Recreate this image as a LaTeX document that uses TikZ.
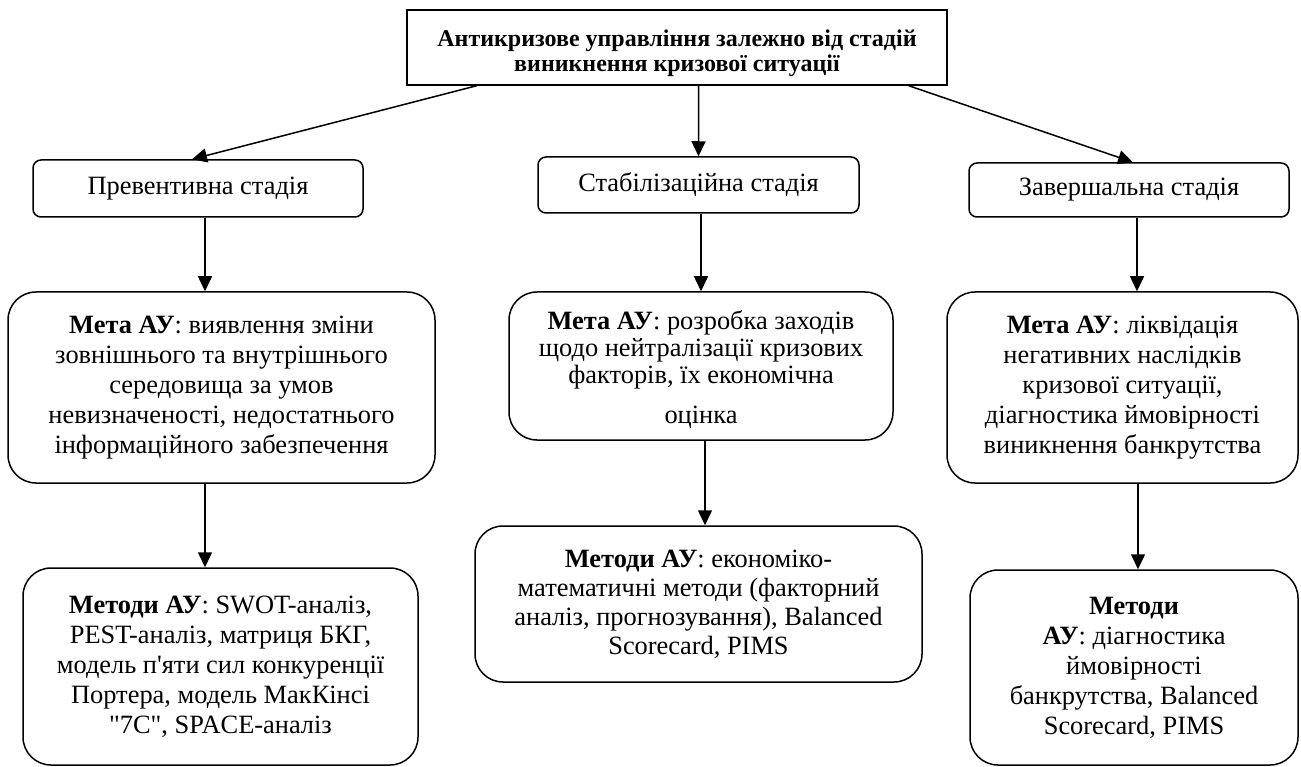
\documentclass[tikz,border=0pt]{standalone}
\usepackage{fontspec}
\setmainfont{Liberation Serif}[Ligatures=TeXOff]
\usetikzlibrary{arrows.meta,calc}
\begin{document}
\begin{tikzpicture}[x=1pt,y=-1pt,
  box/.style={draw, line width=1.5pt, inner sep=0pt, align=center,
    font=\fontsize{26.4}{30}\selectfont},
  stagebox/.style={box, rounded corners=8pt},
  bigbox/.style={box, rounded corners=28pt},
  txt/.style={inner sep=0pt, align=center, font=\fontsize{26.4}{27}\selectfont},
  titletxt/.style={inner sep=0pt, align=center, font=\fontsize{24}{24.5}\selectfont\bfseries},
  arr/.style={line width=1.5pt, -{Triangle[length=15pt,width=14pt]}}]
\useasboundingbox (0,0) rectangle (1301,767);

\node[box, minimum width=540pt, minimum height=75pt] (t) at (677,47.5) {};
\node[titletxt] (tt) at (677,53.5)
  {Антикризове управління залежно від стадій\\ виникнення кризової ситуації};

\node[stagebox, minimum width=330pt, minimum height=57pt] (s1) at (198,188.5) {Превентивна стадія};
\node[stagebox, minimum width=321pt, minimum height=56pt] (s2) at (698.5,185) {Стабілізаційна стадія};
\node[stagebox, minimum width=320pt, minimum height=54pt] (s3) at (1129,190) {Завершальна стадія};

\node[bigbox, minimum width=427pt, minimum height=191pt] (m1) at (221.5,387.5)
  {\textbf{Мета АУ}: виявлення зміни\\ зовнішнього та внутрішнього\\ середовища за умов\\ невизначеності, недостатнього\\ інформаційного забезпечення};
\node[bigbox, minimum width=384pt, minimum height=148pt] (m2) at (701,366) {};
\begin{scope}
  \clip (509,292) rectangle (893,427);
  \node[txt] (m2t) at (701,369.5)
    {\textbf{Мета АУ}: розробка заходів\\ щодо нейтралізації кризових\\ факторів, їх економічна\\[13pt] оцінка};
\end{scope}
\node[bigbox, minimum width=351pt, minimum height=191pt] (m3) at (1122.5,387.5)
  {\textbf{Мета АУ}: ліквідація\\ негативних наслідків\\ кризової ситуації,\\ діагностика ймовірності\\ виникнення банкрутства};

\node[bigbox, minimum width=395pt, minimum height=197pt] (k1) at (220.5,666.5)
  {\textbf{Методи АУ}: SWOT-аналіз,\\ PEST-аналіз, матриця БКГ,\\ модель п'яти сил конкуренції\\ Портера, модель МакКінсі\\ "7С", SPACE-аналіз};
\node[bigbox, minimum width=447pt, minimum height=156pt, font=\fontsize{26.4}{29}\selectfont] (k2) at (698.5,604)
  {\textbf{Методи АУ}: економіко-\\ математичні методи (факторний\\ аналіз, прогнозування), Balanced\\ Scorecard, PIMS};
\node[bigbox, minimum width=328pt, minimum height=195pt] (k3) at (1134,667.5)
  {\textbf{Методи}\\ \textbf{АУ}: діагностика\\ ймовірності\\ банкрутства, Balanced\\ Scorecard, PIMS};

% connectors from title
\draw[arr] ($(t.south west)!0.13!(t.south east)$) -- ([xshift=-6pt]s1.north);
\draw[arr] ($(t.south west)!0.54!(t.south east)$) -- (s2.north);
\draw[arr] ($(t.south west)!0.928!(t.south east)$) -- ([xshift=4pt]s3.north);

% vertical connectors
\coordinate (c1) at ([xshift=7pt]s1.south);
\coordinate (c2) at ([xshift=-16.5pt]m1.south);
\coordinate (c3) at ([xshift=2.5pt]s2.south);
\coordinate (c4) at ([xshift=4pt]m2.south);
\coordinate (c5) at ([xshift=8pt]s3.south);
\coordinate (c6) at ([xshift=15.5pt]m3.south);
\draw[arr] (c1) -- (c1 |- m1.north);
\draw[arr] (c2) -- (c2 |- k1.north);
\draw[arr] (c3) -- (c3 |- m2.north);
\draw[arr] (c4) -- (c4 |- k2.north);
\draw[arr] (c5) -- (c5 |- m3.north);
\draw[arr] (c6) -- (c6 |- k3.north);
\end{tikzpicture}
\end{document}
